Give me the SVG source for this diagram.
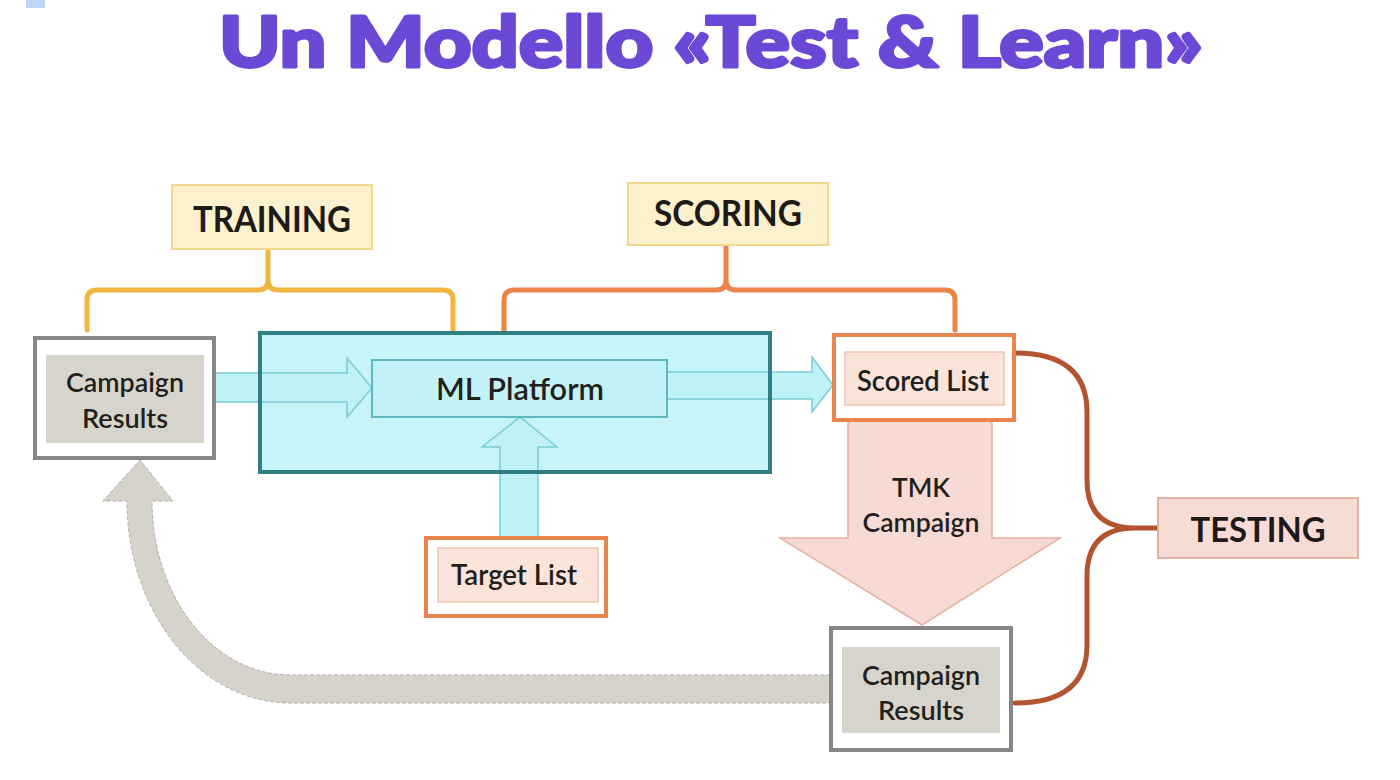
<svg xmlns="http://www.w3.org/2000/svg" width="1400" height="780" viewBox="0 0 1400 780">
<style>
  .lbl { font-family: "Lato", "Liberation Sans", sans-serif; font-weight: 600; fill: #231f1c; text-anchor: middle; }
  .hdr { font-family: "Lato", "Liberation Sans", sans-serif; font-weight: 700; fill: #1d1a17; text-anchor: middle; }
  .grayOuter { fill: #ffffff; stroke: #868686; stroke-width: 4; }
  .grayInner { fill: #d7d4cb; }
  .orgOuter { fill: #ffffff; stroke: #e9844c; stroke-width: 4; }
  .orgInner { fill: #fae3d9; stroke: #efc3b2; stroke-width: 1.5; }
  .cyanArrow { fill: #bff2f7; stroke: #79cdd4; stroke-width: 1.5; }
  .brace { fill: none; stroke-width: 5; stroke-linecap: round; stroke-linejoin: round; }
</style>
<rect width="1400" height="780" fill="#ffffff"/>
<rect x="26" y="0" width="19" height="8" fill="#bcd6f6"/>

<text x="711" y="67" font-family="Lato, 'Liberation Sans', sans-serif" font-weight="900" font-size="70" fill="#6b48d6" stroke="#6b48d6" stroke-width="3" stroke-linejoin="round" text-anchor="middle" textLength="984" lengthAdjust="spacingAndGlyphs">Un Modello «Test &amp; Learn»</text>

<!-- ML platform container fill -->
<g id="ml-container-fill">
  <rect x="260" y="333" width="510" height="139" fill="#c6f4f8"/>
</g>

<g id="connectors">
  <!-- campaign results -> ML platform -->
  <path class="cyanArrow" d="M215 373 L347 373 L347 358 L372 388 L347 417 L347 402 L215 402 Z"/>
  <!-- ML platform -> scored list -->
  <path class="cyanArrow" d="M667 372 L812 372 L812 357 L833 385 L812 412 L812 399 L667 399 Z"/>
  <!-- target list -> ML platform -->
  <path class="cyanArrow" d="M500 537 L500 447 L482 447 L520 417 L557 447 L538 447 L538 537 Z"/>
  <!-- TMK campaign -->
  <path d="M848 420 L992 420 L992 538 L1060 538 L922 625 L780 538 L848 538 Z" fill="#f7dad3" stroke="#e6b3a6" stroke-width="1.5"/>
  <!-- feedback loop -->
  <path d="M830 675 L290 675 A138 174 0 0 1 152 501 L173 501 L140 460 L103 501 L127 501 A163 202 0 0 0 290 703 L830 703 Z" fill="#d6d3ca" stroke="#b3b0a8" stroke-width="1" stroke-dasharray="4 2"/>
  <!-- training brace -->
  <path class="brace" stroke="#f0b640" d="M87 330 L87 300 Q87 290 97 290 L258 290 Q268 290 268 280 L268 249 M268 280 Q268 290 278 290 L443 290 Q453 290 453 300 L453 330"/>
  <!-- scoring brace -->
  <path class="brace" stroke="#ea8449" d="M504 330 L504 300 Q504 290 514 290 L716 290 Q726 290 726 280 L726 245 M726 280 Q726 290 736 290 L945 290 Q955 290 955 300 L955 330"/>
  <!-- testing brace -->
  <path class="brace" stroke="#b4532f" d="M1015 353 Q1087 353 1087 412 L1087 480 Q1087 528 1135 528 L1158 528 M1135 528 Q1087 528 1087 576 L1087 645 Q1087 703 1015 703"/>
</g>

<g id="ml-platform">
  <rect x="260" y="333" width="510" height="139" fill="none" stroke="#2f7f84" stroke-width="4"/>
  <rect x="372" y="360" width="295" height="57" fill="#c2f2f7" stroke="#5fb8bf" stroke-width="2"/>
  <text class="lbl" x="520" y="400" font-size="30" textLength="168" lengthAdjust="spacingAndGlyphs">ML Platform</text>
</g>

<g id="campaign-results-left">
  <rect class="grayOuter" x="35" y="338" width="179" height="120"/>
  <rect class="grayInner" x="46" y="355" width="158" height="88"/>
  <text class="lbl" x="125" y="392" font-size="27" textLength="118" lengthAdjust="spacingAndGlyphs">Campaign</text>
  <text class="lbl" x="125" y="428" font-size="27" textLength="86" lengthAdjust="spacingAndGlyphs">Results</text>
</g>

<g id="training">
  <rect x="172" y="185" width="200" height="64" fill="#fdf0cd" stroke="#f4d68f" stroke-width="2"/>
  <text class="hdr" x="272" y="232" font-size="36" textLength="158" lengthAdjust="spacingAndGlyphs">TRAINING</text>
</g>

<g id="scoring">
  <rect x="628" y="183" width="200" height="62" fill="#fdf0cd" stroke="#f4d68f" stroke-width="2"/>
  <text class="hdr" x="728" y="226" font-size="36" textLength="148" lengthAdjust="spacingAndGlyphs">SCORING</text>
</g>

<g id="scored-list">
  <rect class="orgOuter" x="834" y="335" width="180" height="85"/>
  <rect class="orgInner" x="845" y="352" width="159" height="53"/>
  <text class="lbl" x="923" y="391" font-size="28" textLength="132" lengthAdjust="spacingAndGlyphs">Scored List</text>
</g>

<g id="target-list">
  <rect class="orgOuter" x="426" y="538" width="180" height="78"/>
  <rect class="orgInner" x="438" y="548" width="160" height="54"/>
  <text class="lbl" x="514" y="585" font-size="28" textLength="126" lengthAdjust="spacingAndGlyphs">Target List</text>
</g>

<g id="tmk-campaign-label">
  <text class="lbl" x="921" y="497" font-size="27" textLength="58" lengthAdjust="spacingAndGlyphs">TMK</text>
  <text class="lbl" x="921" y="532" font-size="27" textLength="117" lengthAdjust="spacingAndGlyphs">Campaign</text>
</g>

<g id="campaign-results-bottom">
  <rect class="grayOuter" x="831" y="628" width="180" height="122"/>
  <rect class="grayInner" x="842" y="647" width="158" height="86"/>
  <text class="lbl" x="921" y="685" font-size="27" textLength="118" lengthAdjust="spacingAndGlyphs">Campaign</text>
  <text class="lbl" x="921" y="720" font-size="27" textLength="86" lengthAdjust="spacingAndGlyphs">Results</text>
</g>

<g id="testing">
  <rect x="1158" y="498" width="200" height="60" fill="#f6dcd5" stroke="#e3b1a4" stroke-width="2"/>
  <text class="hdr" x="1258" y="542" font-size="34" textLength="135" lengthAdjust="spacingAndGlyphs">TESTING</text>
</g>
</svg>
